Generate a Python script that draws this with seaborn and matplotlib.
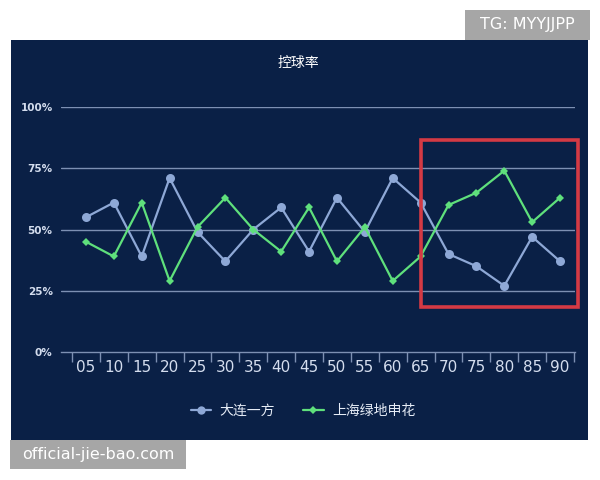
import numpy as np
import pandas as pd
import matplotlib
matplotlib.use("Agg")
import matplotlib.pyplot as plt
from matplotlib.patches import Rectangle
from matplotlib.lines import Line2D
import seaborn as sns

minutes = ["05", "10", "15", "20", "25", "30", "35", "40", "45",
           "50", "55", "60", "65", "70", "75", "80", "85", "90"]
dalian = [55, 61, 39, 71, 49, 37, 50, 59, 41, 63, 49, 71, 61, 40, 35, 27, 47, 37]
shenhua = [45, 39, 61, 29, 51, 63, 50, 41, 59, 37, 51, 29, 39, 60, 65, 74, 53, 63]
series_names = ["大连一方", "上海绿地申花"]
y_ticks = [0, 25, 50, 75, 100]
y_labels = ["0%", "25%", "50%", "75%", "100%"]
title = "控球率"

sns.set_theme(style="white")
plt.rcParams["font.family"] = ["Noto Sans CJK SC", "DejaVu Sans"]

W, H = 600, 480
fig = plt.figure(figsize=(6, 4.8), dpi=100)
fig.patch.set_facecolor("white")

def fx(px):
    return px / W

def fy(py):
    return 1 - py / H

# dark panel
panel = Rectangle((fx(11), fy(440)), fx(588) - fx(11), fy(40) - fy(440),
                  transform=fig.transFigure, facecolor="#0a2046",
                  edgecolor="none", zorder=-5)
fig.patches.append(panel)

ax = fig.add_axes([fx(61), fy(352), fx(575) - fx(61), fy(107) - fy(352)])
ax.set_facecolor("none")
ax.set_zorder(2)

blue = "#8ea8d6"
green = "#5fe07c"
grid_c = "#7d90b3"

x = np.arange(len(minutes))
df_a = pd.DataFrame({"x": x, "v": dalian})
df_b = pd.DataFrame({"x": x, "v": shenhua})

sns.lineplot(data=df_a, x="x", y="v", ax=ax, color=blue, lw=1.6,
             marker="o", markersize=6.5, markeredgewidth=0, zorder=4, clip_on=False)
sns.lineplot(data=df_b, x="x", y="v", ax=ax, color=green, lw=1.6,
             marker="D", markersize=4.5, markeredgewidth=0, zorder=5, clip_on=False)

px_per_unit = (574 - 72) / len(minutes)
ax.set_xlim(-0.5 - (72 - 61) / px_per_unit, len(minutes) - 0.5 + (575 - 574) / px_per_unit)
ax.set_ylim(0, 100)

for t in y_ticks[1:]:
    ax.axhline(t, color=grid_c, lw=1, zorder=1)

for s in ["top", "right", "left"]:
    ax.spines[s].set_visible(False)
ax.spines["bottom"].set_color(grid_c)
ax.spines["bottom"].set_linewidth(1)

ax.set_xticks(x)
ax.set_xticklabels(minutes, color="#d4ddee", fontsize=11,
                   family=["DejaVu Sans"])
ax.set_xticks(np.arange(len(minutes) + 1) - 0.5, minor=True)
ax.tick_params(axis="x", which="major", length=0, pad=6)
ax.tick_params(axis="x", which="minor", length=7, width=1, color=grid_c,
               direction="out", bottom=True)
ax.set_yticks(y_ticks)
ax.set_yticklabels(y_labels, color="#d4ddee", fontsize=7.5, fontweight="bold",
                   family=["DejaVu Sans"])
ax.tick_params(axis="y", length=0, pad=6)
ax.set_xlabel("")
ax.set_ylabel("")

# highlight box
hl = Rectangle((12, 18.4), 17.64 - 12, 86.5 - 18.4, fill=False,
               edgecolor="#d43a44", lw=2.6, zorder=6, clip_on=False)
ax.add_patch(hl)

fig.text(fx(298), fy(63), title, color="white", fontsize=10,
         ha="center", va="center")

handles = [Line2D([], [], color=blue, lw=1.6, marker="o", markersize=6, markeredgewidth=0),
           Line2D([], [], color=green, lw=1.6, marker="D", markersize=4.5, markeredgewidth=0)]
leg = fig.legend(handles, series_names, loc="center", ncol=2, frameon=False,
                 bbox_to_anchor=(fx(303), fy(411)), fontsize=10,
                 handlelength=1.5, columnspacing=2.0, handletextpad=0.6)
for t in leg.get_texts():
    t.set_color("#e6ecf6")

# watermark boxes
fig.patches.append(Rectangle((fx(465), fy(40)), fx(590) - fx(465), fy(10) - fy(40),
                             transform=fig.transFigure, facecolor="#a6a6a6",
                             edgecolor="none", zorder=10))
fig.text(fx(527), fy(25), "TG: MYYJJPP", color="white", fontsize=11.5,
         ha="center", va="center", family=["Liberation Sans Narrow", "DejaVu Sans"], zorder=11)
fig.patches.append(Rectangle((fx(10), fy(469)), fx(186) - fx(10), fy(440) - fy(469),
                             transform=fig.transFigure, facecolor="#a6a6a6",
                             edgecolor="none", zorder=10))
fig.text(fx(98), fy(455), "official-jie-bao.com", color="white", fontsize=11.5,
         ha="center", va="center", family=["DejaVu Sans"], zorder=11)

fig.savefig("out.png", dpi=100)
